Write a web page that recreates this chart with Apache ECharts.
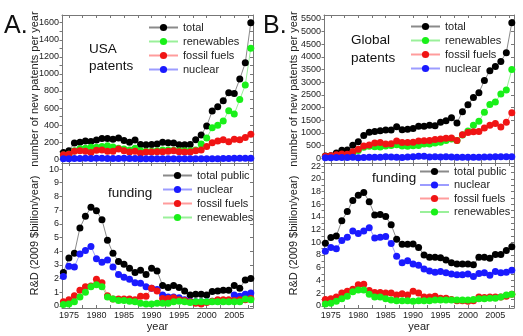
<!DOCTYPE html>
<html>
<head>
<meta charset="utf-8">
<script src="https://cdn.jsdelivr.net/npm/echarts@6/dist/echarts.min.js"></script>
<style>
html,body{margin:0;padding:0;background:#fff}
#main{width:523px;height:336px}
</style>
</head>
<body>
<div id="main"></div>
<script>
var years = [1974,1975,1976,1977,1978,1979,1980,1981,1982,1983,1984,1985,1986,1987,1988,1989,1990,
  1991,1992,1993,1994,1995,1996,1997,1998,1999,2000,2001,2002,2003,2004,2005,2006,2007,2008];

// A. USA patents
var usaPatTotal  = [80,100,190,200,215,210,225,245,245,235,250,220,200,225,175,172,175,180,200,195,190,172,172,175,230,285,390,565,615,685,780,770,940,1130,1600];
var usaPatRenew  = [50,60,100,125,130,140,140,150,160,145,130,120,110,130,100,95,95,100,110,110,105,100,100,100,110,180,250,370,400,450,570,530,700,870,1300];
var usaPatFossil = [55,60,95,100,95,80,105,110,95,95,120,100,85,95,70,85,85,90,90,95,100,90,85,85,100,110,150,195,215,230,205,235,230,255,295];
var usaPatNuc    = [8,8,10,10,12,10,12,12,10,10,10,12,10,10,8,8,8,8,8,8,8,8,8,6,6,6,8,8,8,10,10,12,12,12,12];

// A. USA funding
var usaFundTotal  = [2.45,3.5,3.85,5.7,6.55,7.2,6.95,6.3,4.8,3.85,3.25,3.05,2.75,2.45,2.6,2.3,2.75,2.55,1.5,1.35,1.5,1.35,1.1,0.8,0.85,0.85,0.8,1.05,1.1,1.15,1.15,1.5,1.3,1.9,2.0];
var usaFundNuc    = [2.15,2.9,2.85,3.8,4.05,4.35,3.45,3.2,3.35,2.85,2.3,2.1,1.95,1.7,1.65,1.4,1.3,1.2,0.8,0.65,0.65,0.6,0.45,0.35,0.3,0.3,0.3,0.35,0.35,0.35,0.35,0.8,0.7,0.85,0.95];
var usaFundFossil = [0.3,0.45,0.75,1.15,1.4,1.45,1.95,1.7,0.75,0.5,0.5,0.5,0.5,0.45,0.7,0.7,1.3,1.1,0.55,0.55,0.6,0.45,0.4,0.3,0.2,0.15,0.25,0.35,0.45,0.45,0.45,0.4,0.45,0.45,0.55];
var usaFundRenew  = [0.1,0.15,0.3,0.65,1.0,1.4,1.55,1.4,0.65,0.5,0.4,0.4,0.35,0.3,0.2,0.15,0.15,0.2,0.2,0.2,0.3,0.35,0.3,0.25,0.3,0.3,0.3,0.3,0.3,0.3,0.3,0.3,0.3,0.5,0.45];

// B. Global patents
var globPatTotal  = [90,100,210,320,330,520,650,900,1030,1060,1090,1120,1120,1250,1130,1150,1180,1270,1270,1300,1280,1420,1480,1600,1390,1840,2110,2400,2590,3070,3460,3620,3820,4170,5350];
var globPatRenew  = [60,70,90,120,110,200,310,440,480,460,450,490,510,540,490,480,500,510,560,560,600,630,700,760,700,920,1080,1300,1460,1820,2120,2220,2540,2700,3500];
var globPatFossil = [80,100,140,170,160,260,360,490,530,600,620,560,570,680,620,620,630,680,690,700,740,760,790,800,700,930,1020,1050,1060,1200,1300,1370,1240,1420,1800];
var globPatNuc    = [20,20,30,30,30,40,20,30,40,40,40,60,50,40,30,50,60,80,80,50,60,50,60,50,40,40,40,40,40,50,50,60,60,60,60];

// B. Global funding
var globFundTotal  = [9.85,10.75,11.0,13.4,14.85,16.6,17.4,17.85,16.4,14.3,14.4,14.05,12.75,10.5,9.7,9.7,9.75,9.2,8.0,7.65,7.65,7.55,7.2,6.8,6.6,6.6,6.6,6.45,7.65,7.65,7.5,8.1,8.1,8.7,9.3];
var globFundNuc    = [8.6,9.2,9.0,10.3,10.8,11.8,11.4,11.8,12.3,10.7,10.8,10.9,9.8,7.8,6.8,7.1,6.6,6.4,5.8,5.5,5.3,5.4,5.2,5.0,4.9,4.9,5.0,4.6,5.1,5.2,4.8,5.4,5.2,5.3,5.6];
var globFundFossil = [1.0,1.1,1.4,2.0,2.3,2.6,3.3,3.4,2.4,2.1,2.1,2.0,2.0,1.7,1.9,1.7,2.3,2.0,1.4,1.4,1.5,1.2,1.2,1.0,0.8,0.8,0.7,0.8,1.4,1.3,1.4,1.4,1.4,1.5,1.8];
var globFundRenew  = [0.3,0.4,0.7,1.1,1.5,2.2,2.5,2.5,1.8,1.4,1.4,1.1,0.9,0.8,0.8,0.8,0.7,0.8,0.8,0.8,0.9,0.9,0.9,0.9,0.9,0.9,0.9,1.0,1.1,1.1,1.2,1.2,1.4,1.7,1.8];

// tick labels
var xTicks = [1975,1980,1985,1990,1995,2000,2005];
var xMinor = [1977.5,1982.5,1987.5,1992.5,1997.5,2002.5,2007.5];
var aPatTicks  = [0,200,400,600,800,1000,1200,1400,1600];
var aPatMinor  = [100,300,500,700,900,1100,1300,1500];
var aFundTicks = [0,1,2,3,4,5,6,7,8,9,10];
var bPatTicks  = [0,500,1000,1500,2000,2500,3000,3500,4000,4500,5000,5500];
var bFundTicks = [0,2,4,6,8,10,12,14,16,18,20,22];
var bFundMinor = [1,3,5,7,9,11,13,15,17,19,21];

var FONT = '"Liberation Sans", Arial, sans-serif';
var FRAME = '#777';
var TXT = '#222';

var col = {
  total:  {dot:'#000000', line:'#8a8a8a'},
  renew:  {dot:'#19f019', line:'#9af09a'},
  fossil: {dot:'#f01414', line:'#ff9c9c'},
  nuc:    {dot:'#1a1aff', line:'#9c9cff'}
};

var grids = [
  {left:62,  top:15,  width:191, height:148},
  {left:62,  top:163, width:191, height:145},
  {left:324, top:15,  width:190, height:148},
  {left:324, top:163, width:190, height:145}
];
var yMin = [-43, -0.15, -185, -0.35];
var yMax = [1690, 10.44, 5655, 22.5];
var yLab = [aPatTicks, aFundTicks, bPatTicks, bFundTicks];
var yMin2 = [aPatMinor, [], [], bFundMinor];
var yName = ['number of new patents per year', 'R&D (2009 $billion/year)',
             'number of new patents per year', 'R&D (2009 $billion/year)'];
var yGap = [22, 22, 25, 25];

function plain(v) { return String(v); }

var xAxes = [], yAxes = [];
grids.forEach(function (g, i) {
  var lower = (i % 2 === 1);
  var common = {gridIndex:i, type:'value', min:1973.75, max:2008.4, splitLine:{show:false},
    axisLine:{show:true, onZero:false, lineStyle:{color:FRAME, width:1}}};
  xAxes.push(Object.assign({}, common, {
    position:'bottom',
    axisTick:{show:true, inside:true, length:3, customValues:xTicks.concat(xMinor), lineStyle:{color:FRAME}},
    axisLabel:{show:lower, customValues:xTicks, formatter:plain, fontSize:9, margin:3, color:TXT, fontFamily:FONT},
    name: lower ? 'year' : '', nameLocation:'middle', nameGap:13, nameMoveOverlap:false,
    nameTextStyle:{fontSize:11, color:TXT, fontFamily:FONT}
  }));
  xAxes.push(Object.assign({}, common, {
    position:'top',
    axisTick:{show:true, inside:true, length:3, customValues:xTicks.concat(xMinor), lineStyle:{color:FRAME}},
    axisLabel:{show:false}
  }));
  var yc = {gridIndex:i, type:'value', min:yMin[i], max:yMax[i], splitLine:{show:false},
    axisLine:{show:true, onZero:false, lineStyle:{color:FRAME, width:1}}};
  var yt = yLab[i].concat(yMin2[i]);
  yAxes.push(Object.assign({}, yc, {
    position:'left',
    axisTick:{show:true, inside:false, length:2.5, customValues:yt, lineStyle:{color:FRAME}},
    axisLabel:{customValues:yLab[i], formatter:plain, fontSize:9, margin:3, color:TXT, fontFamily:FONT},
    name:yName[i], nameLocation:'middle', nameRotate:90, nameGap:yGap[i], nameMoveOverlap:false,
    nameTextStyle:{fontSize:11, color:TXT, fontFamily:FONT}
  }));
  yAxes.push(Object.assign({}, yc, {
    position:'right',
    axisTick:{show:true, inside:true, length:3, customValues:yt, lineStyle:{color:FRAME}},
    axisLabel:{show:false}
  }));
});

function pts(arr) {
  return years.map(function (y, k) { return [y, arr[k]]; });
}
function line(name, arr, gi, c) {
  return {
    type:'line', name:name, xAxisIndex:gi * 2, yAxisIndex:gi * 2, data:pts(arr),
    symbol:'circle', symbolSize:7, clip:false, silent:true,
    itemStyle:{color:c.dot}, lineStyle:{color:c.line, width:1},
    emphasis:{disabled:true}
  };
}

var series = [
  line('total', usaPatTotal, 0, col.total),
  line('renewables', usaPatRenew, 0, col.renew),
  line('fossil fuels', usaPatFossil, 0, col.fossil),
  line('nuclear', usaPatNuc, 0, col.nuc),

  line('total public', usaFundTotal, 1, col.total),
  line('nuclear', usaFundNuc, 1, col.nuc),
  line('fossil fuels', usaFundFossil, 1, col.fossil),
  line('renewables', usaFundRenew, 1, col.renew),

  line('total', globPatTotal, 2, col.total),
  line('renewables', globPatRenew, 2, col.renew),
  line('fossil fuels', globPatFossil, 2, col.fossil),
  line('nuclear', globPatNuc, 2, col.nuc),

  line('total public', globFundTotal, 3, col.total),
  line('nuclear', globFundNuc, 3, col.nuc),
  line('fossil fuels', globFundFossil, 3, col.fossil),
  line('renewables', globFundRenew, 3, col.renew)
];

function leg(names, left, top, gap) {
  return {
    data:names, left:left, top:top, orient:'vertical', padding:0,
    itemWidth:29, itemHeight:9, itemGap:gap, selectedMode:false,
    textStyle:{fontSize:11, color:TXT, fontFamily:FONT}
  };
}
var patNames = ['total', 'renewables', 'fossil fuels', 'nuclear'];
var fundNames = ['total public', 'nuclear', 'fossil fuels', 'renewables'];

function txt(s, x, y, size) {
  return {type:'text', left:x, top:y,
    style:{text:s, fontSize:size, fontFamily:FONT, fill:'#111', textVerticalAlign:'top'}};
}

var chart = echarts.init(document.getElementById('main'), null, {renderer:'canvas'});
chart.setOption({
  animation:false,
  backgroundColor:'#fff',
  grid:grids,
  xAxis:xAxes,
  yAxis:yAxes,
  legend:[
    leg(patNames, 148, 22, 3),
    leg(fundNames, 162, 170, 3),
    leg(patNames, 410, 21, 3),
    leg(fundNames, 419, 166, 2.5)
  ],
  graphic:[
    txt('A.', 4, 14, 25),
    txt('B.', 263, 14, 25),
    txt('USA', 89, 42, 13.5),
    txt('patents', 89, 59, 13.5),
    txt('Global', 351, 33, 13.5),
    txt('patents', 351, 51, 13.5),
    txt('funding', 108, 186, 13.5),
    txt('funding', 372, 171, 13.5)
  ],
  series:series
});
</script>
</body>
</html>
